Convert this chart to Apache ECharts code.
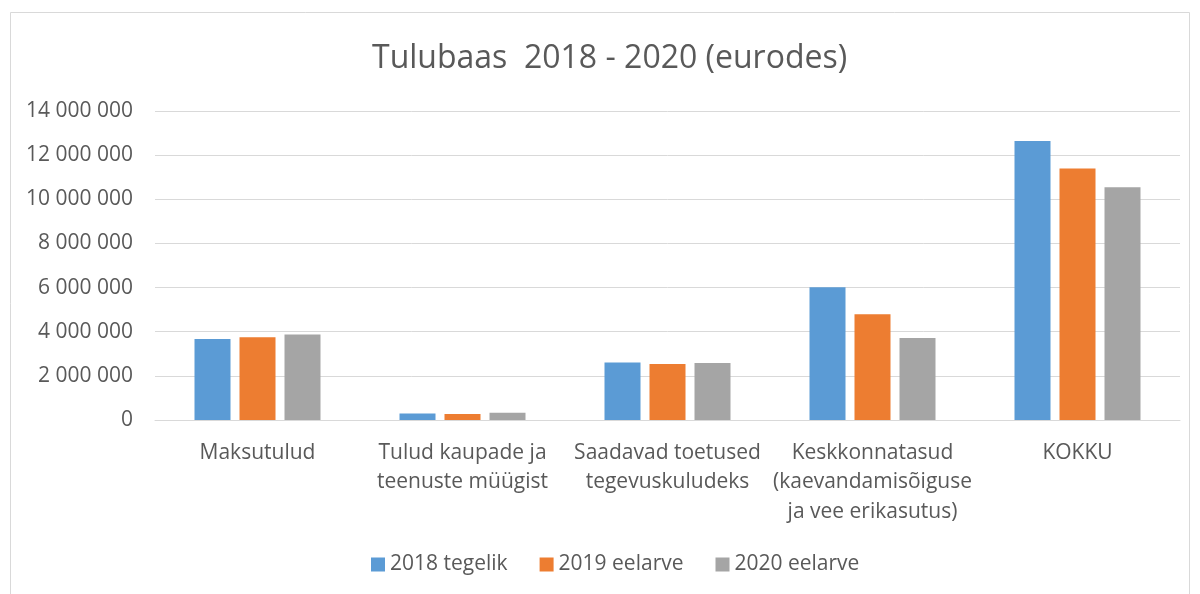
<!DOCTYPE html>
<html>
<head>
<meta charset="utf-8">
<script src="https://cdn.jsdelivr.net/npm/echarts@6/dist/echarts.min.js"></script>
<style>
  html, body { margin: 0; padding: 0; background: #fff; }
  #chart { width: 1200px; height: 594px; }
</style>
</head>
<body>
<div id="chart"></div>
<script>
// ---- data ----
const categories = [
  'Maksutulud',
  'Tulud kaupade ja\nteenuste müügist',
  'Saadavad toetused\ntegevuskuludeks',
  'Keskkonnatasud\n(kaevandamisõiguse\nja vee erikasutus)',
  'KOKKU'
];
const seriesNames = ['2018 tegelik', '2019 eelarve', '2020 eelarve'];
const actual2018 = [3670000, 300000, 2610000, 6010000, 12640000];
const budget2019 = [3750000, 270000, 2540000, 4790000, 11400000];
const budget2020 = [3870000, 330000, 2580000, 3720000, 10540000];
const colors = ['#5b9bd5', '#ed7d31', '#a5a5a5'];

const FONT = '"Open Sans", sans-serif';
const TEXT = '#595959';

function fmtNum(v) {
  return String(v).replace(/\B(?=(\d{3})+(?!\d))/g, ' ');
}

const chart = echarts.init(document.getElementById('chart'));
const values = [actual2018, budget2019, budget2020];

chart.setOption({
  backgroundColor: '#fff',
  animation: false,
  graphic: [{
    type: 'rect',
    shape: { x: 10.5, y: 12.5, width: 1179, height: 600 },
    style: { fill: 'none', stroke: '#d9d9d9', lineWidth: 1 },
    silent: true
  }],
  title: {
    text: 'Tulubaas  2018 - 2020 (eurodes)',
    left: 367,
    top: 38,
    textStyle: { fontFamily: FONT, fontSize: 32, fontWeight: 'normal', color: TEXT }
  },
  legend: {
    bottom: 14,
    left: 366,
    itemWidth: 14,
    itemHeight: 14,
    itemGap: 32,
    icon: 'rect',
    textStyle: { fontFamily: FONT, fontSize: 21, color: TEXT },
    data: seriesNames
  },
  grid: { left: 155, right: 20, top: 111, bottom: 174, containLabel: false },
  xAxis: {
    type: 'category',
    data: categories,
    axisLine: { lineStyle: { color: '#d9d9d9', width: 1 } },
    axisTick: { show: false },
    axisLabel: {
      interval: 0,
      margin: 18,
      lineHeight: 29.5,
      fontFamily: FONT,
      fontSize: 21,
      color: TEXT
    }
  },
  yAxis: {
    type: 'value',
    min: 0,
    max: 14000000,
    interval: 2000000,
    axisLine: { show: false },
    axisTick: { show: false },
    splitLine: { lineStyle: { color: '#d9d9d9', width: 1 } },
    axisLabel: {
      margin: 22,
      fontFamily: FONT,
      fontSize: 21,
      color: TEXT,
      formatter: fmtNum
    }
  },
  series: seriesNames.map((name, i) => ({
    name: name,
    type: 'bar',
    data: values[i],
    barWidth: 36,
    barGap: '25%',
    itemStyle: { color: colors[i] }
  }))
});
</script>
</body>
</html>
